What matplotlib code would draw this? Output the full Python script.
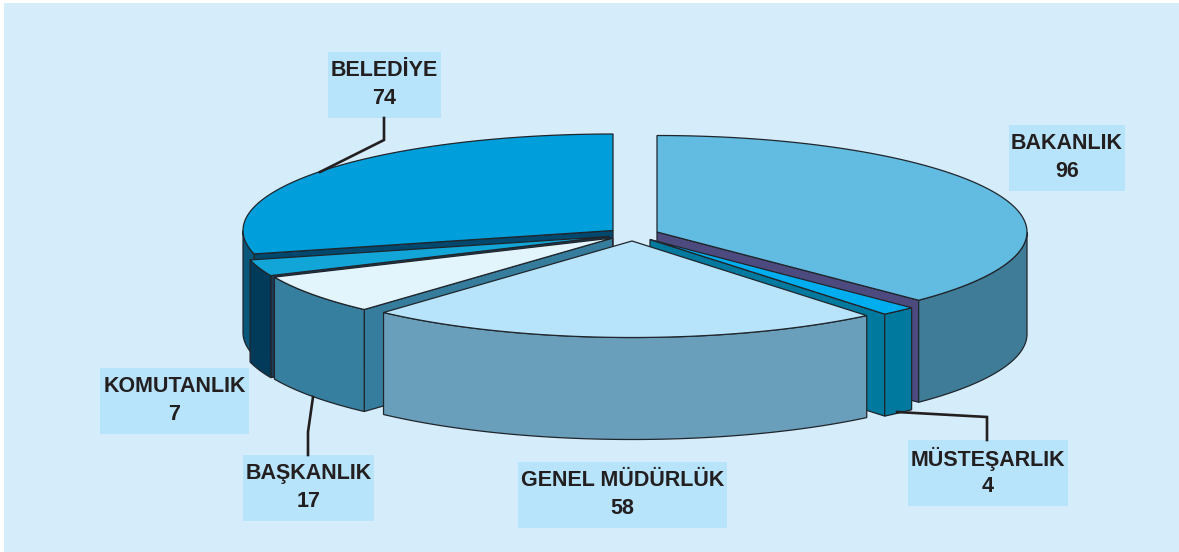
# -*- coding: utf-8 -*-
import numpy as np
import matplotlib
matplotlib.use('Agg')
import matplotlib.pyplot as plt
from matplotlib.patches import Polygon, Rectangle

names = ['BAKANLIK', 'MÜSTEŞARLIK', 'GENEL MÜDÜRLÜK', 'BAŞKANLIK', 'KOMUTANLIK', 'BELEDİYE']
values = [96, 4, 58, 17, 7, 74]

# colours per slice: top, rim, cut wall
top_colors = ['#62bbe0', '#00aeef', '#b7e4fb', '#e2f5fd', '#12a5d8', '#009fdc']
rim_colors = ['#3f7c98', '#00799f', '#699fbb', '#377f9f', '#023a5a', '#0a577c']
wall_colors = ['#4d4a80', '#00799f', '#699fbb', '#367d9d', '#1c3b55', '#00486e']

# layout in pixels
apex = [(657, 232), (650, 239.5), (632, 241), (612.7, 238), (609, 236.5), (613, 230.5)]
draw_order = [0, 5, 4, 1, 3, 2]
rx, ry, depth = 370, 96.5, 102
edge = '#20252b'

# label boxes: left, top, right, bottom
boxes = [(1009, 125, 1125, 191), (908, 440, 1068, 506), (518, 462, 727, 528),
         (243, 455, 374, 521), (100, 368, 249, 434), (328, 52, 441, 118)]
leaders = {
    1: [(987, 440), (987, 417), (897, 412)],
    3: [(308, 455), (308, 432), (313, 397)],
    5: [(384, 118), (384, 140), (320, 172)],
}


def arc(c, a0, a1, dy=0):
    t = np.radians(np.linspace(a0, a1, 80))
    return np.column_stack([c[0] + rx * np.cos(t), c[1] - ry * np.sin(t) + dy])


def point(c, a, dy=0):
    t = np.radians(a)
    return (c[0] + rx * np.cos(t), c[1] - ry * np.sin(t) + dy)


fig = plt.figure(figsize=(11.79, 5.52), dpi=100, facecolor='white')
ax = fig.add_axes([0, 0, 1, 1])
ax.set_xlim(0, 1179)
ax.set_ylim(552, 0)
ax.axis('off')
ax.add_patch(Rectangle((4, 3), 1175, 549, fc='#d5edfb', ec='none', zorder=0))

# slice angles run clockwise from the top, as in the original pie
ends = 90 - np.cumsum(values) / np.sum(values) * 360
starts = np.r_[90, ends[:-1]]

z = 1
for i in draw_order:
    c, a0, a1 = apex[i], starts[i], ends[i]
    # the cut wall faces the viewer only if the slice does not contain the front
    if not a1 < -90 < a0:
        a = a1 if abs(a1 + 90) < abs(a0 + 90) else a0
        wall = [c, point(c, a), point(c, a, depth), (c[0], c[1] + depth)]
        ax.add_patch(Polygon(wall, fc=wall_colors[i], ec=edge, lw=0.9, zorder=z))
        z += 1
    # outer rim, only the part on the front half
    r0, r1 = min(a0, 0), max(a1, -180)
    if r0 > r1:
        rim = np.vstack([arc(c, r0, r1), arc(c, r1, r0, depth)])
        ax.add_patch(Polygon(rim, fc=rim_colors[i], ec=edge, lw=0.9, zorder=z))
        z += 1
    face = np.vstack([[c], arc(c, a0, a1)])
    ax.add_patch(Polygon(face, fc=top_colors[i], ec=edge, lw=0.9, zorder=z))
    z += 1

for i, name in enumerate(names):
    l, t, r, b = boxes[i]
    ax.add_patch(Rectangle((l, t), r - l, b - t, fc='#b7e4fb', ec='none', zorder=z))
    cx = (l + r) / 2
    ax.text(cx, t + 18.5, name, ha='center', va='center', fontsize=15.5, fontweight='bold',
            family='Liberation Sans', color='#231f20', zorder=z + 1)
    ax.text(cx, t + 46.5, str(values[i]), ha='center', va='center', fontsize=15.5, fontweight='bold',
            family='Liberation Sans', color='#231f20', zorder=z + 1)

for i in leaders:
    xs, ys = zip(*leaders[i])
    ax.plot(xs, ys, color='#231f20', lw=1.9, solid_joinstyle='miter', zorder=z)

fig.savefig('out.png', dpi=100)
